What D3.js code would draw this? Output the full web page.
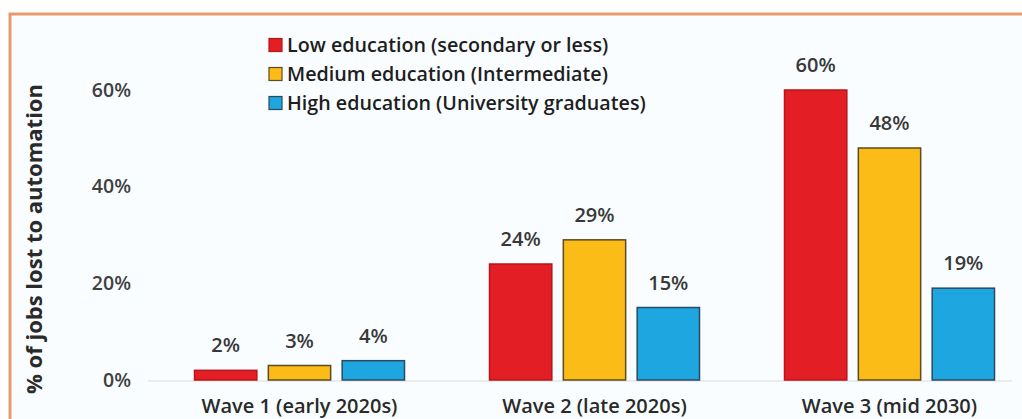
<!DOCTYPE html>
<html>
<head>
<meta charset="utf-8">
<script src="https://cdn.jsdelivr.net/npm/d3@7"></script>
<style>
  html, body { margin: 0; padding: 0; background: #ffffff; }
  svg { display: block; }
  text { font-family: "Open Sans", Lato, sans-serif; }
</style>
</head>
<body>
<svg id="chart" width="1022" height="419"></svg>
<script>
// Share of jobs lost to automation, by education level and wave
const waves = ["Wave 1 (early 2020s)", "Wave 2 (late 2020s)", "Wave 3 (mid 2030)"];
const seriesNames = [
  "Low education (secondary or less)",
  "Medium education (Intermediate)",
  "High education (University graduates)"
];
const lowEducation = [2, 24, 60];
const mediumEducation = [3, 29, 48];
const highEducation = [4, 15, 19];
const yTicks = [0, 20, 40, 60];
const yTitle = "% of jobs lost to automation";

const seriesValues = [lowEducation, mediumEducation, highEducation];
const fills = ["#e31e24", "#fbbc18", "#1ea6e0"];
const strokes = ["#b8141a", "#5c4a22", "#2b4a5e"];

const svg = d3.select("#chart");
const W = 1022, H = 419;

// panel frame with orange border
svg.append("rect").attr("x", 0).attr("y", 0).attr("width", W).attr("height", H).attr("fill", "#ffffff");
svg.append("rect")
  .attr("x", 10).attr("y", 14).attr("width", W + 20).attr("height", H + 20)
  .attr("fill", "#f9fdff")
  .attr("stroke", "#eb9a6c").attr("stroke-width", 3);

const y = d3.scaleLinear().domain([0, 60]).range([380, 90]);
const x0 = d3.scaleBand().domain(waves).range([152, 1037]).paddingInner(0).paddingOuter(0);
const groupWidth = 210;
const x1 = d3.scaleBand().domain(d3.range(seriesNames.length)).range([0, groupWidth]).paddingInner(0.156).paddingOuter(0);
const groupOffset = (x0.bandwidth() - groupWidth) / 2;

// baseline
svg.append("line")
  .attr("x1", 148).attr("x2", 1012)
  .attr("y1", y(0) + 1).attr("y2", y(0) + 1)
  .attr("stroke", "#e4e4e4").attr("stroke-width", 1.5);

// y axis labels (no axis line or ticks)
const yAxis = d3.axisLeft(y).tickValues(yTicks).tickFormat(d => d + "%").tickSize(0).tickPadding(0);
const yg = svg.append("g").attr("transform", "translate(131,0)").call(yAxis);
yg.select(".domain").remove();
yg.selectAll("text")
  .attr("font-size", 19.5)
  .attr("font-weight", 600)
  .attr("fill", "#404040")
  .style("font-family", "'Open Sans', sans-serif");

// y axis title
svg.append("text")
  .attr("transform", `translate(42, ${239}) rotate(-90)`)
  .attr("text-anchor", "middle")
  .attr("font-size", 22)
  .attr("font-weight", "bold")
  .attr("fill", "#2a2a2a")
  .text(yTitle);

// bars
const groups = svg.append("g").selectAll("g")
  .data(waves)
  .join("g")
  .attr("transform", d => `translate(${x0(d) + groupOffset},0)`);

groups.selectAll("rect")
  .data((d, i) => seriesValues.map((vals, s) => ({ s, v: vals[i] })))
  .join("rect")
  .attr("x", d => x1(d.s))
  .attr("y", d => y(d.v))
  .attr("width", x1.bandwidth())
  .attr("height", d => y(0) - y(d.v))
  .attr("fill", d => fills[d.s])
  .attr("stroke", d => strokes[d.s])
  .attr("stroke-width", 1.5);

// value labels
groups.selectAll("text.val")
  .data((d, i) => seriesValues.map((vals, s) => ({ s, v: vals[i] })))
  .join("text")
  .attr("class", "val")
  .attr("x", d => x1(d.s) + x1.bandwidth() / 2)
  .attr("y", d => y(d.v) - 18)
  .attr("text-anchor", "middle")
  .attr("font-size", 20)
  .attr("font-weight", 600)
  .attr("fill", "#383838")
  .text(d => d.v + "%");

// category labels
svg.append("g").selectAll("text")
  .data(waves)
  .join("text")
  .attr("x", d => x0(d) + groupOffset + groupWidth / 2)
  .attr("y", 413)
  .attr("text-anchor", "middle")
  .attr("font-size", 20)
  .attr("font-weight", 600)
  .attr("fill", "#2a2a2a")
  .text(d => d);

// legend
const legend = svg.append("g").attr("transform", "translate(269,0)");
const legendRows = [45, 74, 103];
seriesNames.forEach((name, s) => {
  legend.append("rect")
    .attr("x", 0).attr("y", legendRows[s] - 6.5)
    .attr("width", 13).attr("height", 13)
    .attr("fill", fills[s]).attr("stroke", strokes[s]).attr("stroke-width", 1.2);
  legend.append("text")
    .attr("x", 18).attr("y", legendRows[s])
    .attr("dy", "0.35em")
    .attr("font-size", 19.7)
    .attr("font-weight", 600)
    .attr("fill", "#1e1e1e")
    .text(name);
});
</script>
</body>
</html>
